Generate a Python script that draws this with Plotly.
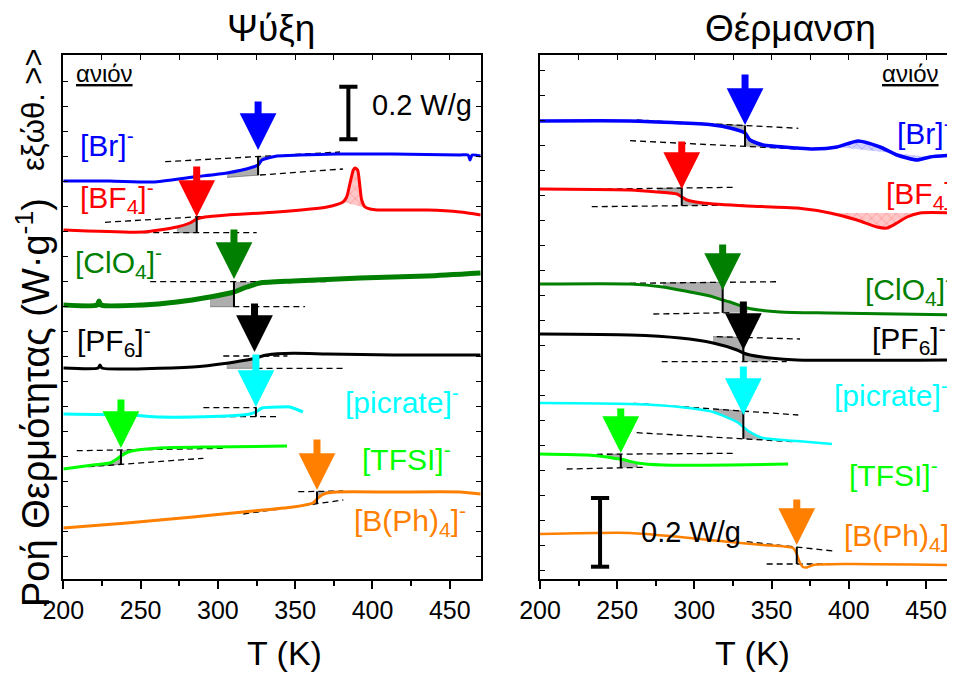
import plotly.graph_objects as go

# ================= DATA =================
# Left panel: cooling (Ψύξη). T in K; heat flow with vertical offsets (arbitrary units)
c_br_T = [200, 230, 258, 283.9, 305.9, 322.7, 326.0, 328.5, 338.2, 353.1, 377.0, 413.3, 456.6, 461.8, 463.1, 464.4, 470]
c_br_Y = [398, 398, 397, 402, 406, 412, 414, 419, 423, 424, 425, 425, 424, 424, 419, 424, 423]
c_bf4_T = [200, 251.6, 273.5, 281.9, 286.3, 291.6, 305.9, 338.2, 370.6, 380.9, 383.3, 385.5, 387.6, 388.7,
           390.4, 391.9, 393.0, 395.2, 398.4, 403.0, 435.3, 456.7, 470]
c_bf4_Y = [349, 347, 352, 356, 360, 362, 364, 367, 372, 377, 382, 396, 409, 411,
           409, 392, 379, 372, 370, 369, 369, 367, 364]
c_clo4_T = [200, 221.8, 223.1, 224.4, 251.6, 273.5, 294.9, 307.8, 310.4, 318.8, 327.2, 348.6, 391.9, 435.2, 470]
c_clo4_Y = [274, 274, 278, 274, 274, 277, 282, 286, 287, 292, 296, 298, 301, 303, 306]
c_pf6_T = [200, 222.5, 223.7, 225, 283.9, 305.7, 318.6, 323.7, 327.2, 331.6, 348.8, 370.6, 413.3, 470]
c_pf6_Y = [211, 211, 214, 211, 212, 215.7, 219, 220.5, 222.3, 224, 225.7, 225, 224, 224]
c_pic_T = [200, 241.2, 262.6, 283.9, 305.9, 320.8, 324.6, 328.5, 340.1, 346.6, 355.0]
c_pic_Y = [165, 164, 162, 162, 163, 165, 167, 171, 172, 172, 167]
c_tfsi_T = [200, 219.2, 230.2, 234.7, 237.3, 241.9, 247.7, 262.6, 294.9, 344.7]
c_tfsi_Y = [110, 114, 116, 120, 123, 127, 129, 131, 132, 133]
c_bph4_T = [200, 241.2, 283.9, 316.2, 348.6, 361.5, 364.1, 367.3, 370.6, 377.0, 413.3, 456.6, 470]
c_bph4_Y = [51, 56, 62, 67, 72, 76, 80, 84, 86, 87, 87, 87, 85]

# Right panel: heating (Θέρμανση)
h_br_T = [200, 258.3, 290.7, 312.1, 323.1, 332.8, 336.0, 344.4, 366.5, 376.8, 392.4, 406.0, 420.2, 431.2, 444.2, 452.6, 470]
h_br_Y = [458, 458, 456, 454, 451, 446, 439, 434, 431, 430, 432, 438, 432, 424, 419, 422, 424]
h_bf4_T = [200, 258.3, 275.8, 288.7, 291.8, 295.2, 305.6, 334.1, 366.5, 387.8, 405.3, 418.3, 424.8, 431.2, 437.7, 446.1, 470]
h_bf4_Y = [390, 389, 387, 385, 382, 379, 376, 373, 371, 366, 359, 352, 351, 356, 362, 366, 366]
h_clo4_T = [200, 258.3, 279.7, 297.2, 310.1, 318.3, 323.1, 334.1, 355.5, 387.8, 470]
h_clo4_Y = [295, 295, 292, 287, 283, 279, 277, 271, 267, 266, 264]
h_pf6_T = [200, 258.3, 290.7, 312.1, 327.6, 331.7, 336.0, 349.0, 366.5, 470]
h_pf6_Y = [245, 244, 241, 236, 229, 226, 224, 221, 219, 219]
h_pic_T = [200, 258.3, 290.7, 312.1, 327.6, 331.7, 336.0, 344.4, 366.5, 389.1]
h_pic_Y = [176, 175, 172, 167, 157, 152, 147, 141, 138, 135]
h_tfsi_T = [200, 230.4, 243.4, 248.6, 252.3, 262.8, 279.7, 323.1, 360.6]
h_tfsi_Y = [125, 124, 122, 120.5, 120, 116, 114, 114, 115]
h_bph4_T = [200, 258.3, 290.7, 323.1, 344.4, 363.9, 366.3, 368.4, 370.3, 372.9, 376.8, 398.8, 470]
h_bph4_Y = [45, 46, 42, 37, 34, 31, 25, 16, 12, 11.5, 14, 15, 14]

anion_labels = ["[Br]<sup>-</sup>", "[BF<sub>4</sub>]<sup>-</sup>", "[ClO<sub>4</sub>]<sup>-</sup>",
                "[PF<sub>6</sub>]<sup>-</sup>", "[picrate]<sup>-</sup>", "[TFSI]<sup>-</sup>",
                "[B(Ph)<sub>4</sub>]<sup>-</sup>"]
colors = ["#0000FF", "#FF0000", "#007F00", "#000000", "#00FFFF", "#00FF00", "#FF8000"]

# Glass transitions (K)
cool_tg = [326.0, 286.3, 310.4, 323.7, 324.6, 237.3, 364.1]
heat_tg = [332.8, 291.8, 318.3, 331.7, 331.7, 252.3, 366.3]
# extrapolated baselines (x1, y1, x2, y2): low-T side and high-T side
cool_low = [(327.2, 404, 380.9, 410), (251.7, 346.3, 325.1, 346.3), (310, 272.3, 356.3, 272.3),
            (325, 210.7, 381, 210.7), (256.1, 162.3, 340.1, 162.3), (216.2, 112.3, 290.6, 120.7),
            (316.4, 65, 381.1, 79)]
cool_high = [(265.9, 417.3, 379.0, 427), (227, 356.7, 290, 362.5), (256.2, 297.3, 370.6, 297.3),
             (303.5, 223, 345, 223), (290.6, 171.3, 325.1, 171.3), (208.7, 128.3, 305.7, 130.7),
             (352, 87.3, 381, 88)]
heat_low = [(262.6, 459, 367.3, 450.7), (230.2, 389.7, 326.3, 391.7), (258.3, 295.7, 355.4, 297.3),
            (314.5, 242.3, 368.4, 240), (260.4, 175.7, 367.3, 164), (236.7, 124.7, 327.4, 125.7),
            (333.9, 37.3, 390.0, 28)]
heat_high = [(258.3, 438.3, 366.3, 430), (233.5, 372.3, 331.7, 374), (273.4, 265, 323.1, 266.3),
             (278.8, 217.3, 359.8, 217.3), (262.6, 146.3, 364.1, 137.3), (217.3, 110, 266.9, 111.7),
             (346.8, 15, 390, 15)]
# shaded range (start, end) around Tg
cool_shade = [(305.9, 338.2), (273.5, 305.9), (294.9, 327.2), (305.7, 340), (324.6, 324.6), (219.2, 247.7), (348.6, 370.6)]
heat_shade = [(312.1, 344.4), (275.8, 305.6), (279.7, 334.1), (312.1, 349.0), (312.1, 344.4), (243.4, 262.8), (366.3, 366.3)]
# arrow (top, tip) heights
cool_arrow = [(479, 429), (414, 362), (351, 300), (277, 227), (226, 172), (181, 131), (141, 89)]
heat_arrow = [(506, 454), (439, 390), (336, 289), (279, 229), (214, 164), (172, 126), (81, 34)]
# hatched (peak) regions: (panel, curve index, T start, T end)
peaks = [("c", 1, 380.9, 398.4), ("h", 0, 392.4, 452.6), ("h", 1, 387.8, 446.1)]

cool_curves = [(c_br_T, c_br_Y), (c_bf4_T, c_bf4_Y), (c_clo4_T, c_clo4_Y), (c_pf6_T, c_pf6_Y),
               (c_pic_T, c_pic_Y), (c_tfsi_T, c_tfsi_Y), (c_bph4_T, c_bph4_Y)]
heat_curves = [(h_br_T, h_br_Y), (h_bf4_T, h_bf4_Y), (h_clo4_T, h_clo4_Y), (h_pf6_T, h_pf6_Y),
               (h_pic_T, h_pic_Y), (h_tfsi_T, h_tfsi_Y), (h_bph4_T, h_bph4_Y)]
cool_widths = [3, 3, 5, 3, 3, 3, 3]
heat_widths = [3.5, 3, 3, 3, 2.5, 3, 2.5]

scale_bar_T = [384.4, 238.9]
scale_bar_Y = [(439.7, 492.3), (12.3, 81)]

FONT = "Arial, Liberation Sans, sans-serif"
W, H = 980, 676
OFF = 8  # page body margin of the html page

fig = go.Figure()


def line_at(seg, t):
    x1, y1, x2, y2 = seg
    return y1 + (y2 - y1) * (t - x1) / (x2 - x1)


panels = [
    ("x", "y", cool_curves, cool_tg, cool_low, cool_high, cool_shade, cool_arrow, cool_widths),
    ("x2", "y2", heat_curves, heat_tg, heat_low, heat_high, heat_shade, heat_arrow, heat_widths),
]

GREY = "rgba(165,165,165,0.9)"
annotations = []
for (xr, yr, curves, tgs, lows, highs, shades, arrows, widths) in panels:
    # grey shaded areas
    for i, (T, Y) in enumerate(curves):
        tg = tgs[i]
        xa, xb = shades[i]
        if xa < tg:
            pts = [(t, y) for t, y in zip(T, Y) if xa <= t <= tg]
            fx = [p[0] for p in pts] + [tg, xa]
            fy = [p[1] for p in pts] + [line_at(lows[i], tg), line_at(lows[i], xa)]
            fig.add_trace(go.Scatter(x=fx, y=fy, xaxis=xr, yaxis=yr, mode="lines", fill="toself",
                                     fillcolor=GREY, line=dict(color="#555555", width=0.6),
                                     hoverinfo="skip", showlegend=False))
        if xb > tg:
            pts = [(t, y) for t, y in zip(T, Y) if tg <= t <= xb]
            fx = [tg] + [p[0] for p in pts] + [xb]
            fy = [line_at(highs[i], tg)] + [p[1] for p in pts] + [line_at(highs[i], xb)]
            fig.add_trace(go.Scatter(x=fx, y=fy, xaxis=xr, yaxis=yr, mode="lines", fill="toself",
                                     fillcolor=GREY, line=dict(color="#555555", width=0.6),
                                     hoverinfo="skip", showlegend=False))
    # dashed baselines
    for i in range(len(curves)):
        for seg in (lows[i], highs[i]):
            fig.add_trace(go.Scatter(x=[seg[0], seg[2]], y=[seg[1], seg[3]], xaxis=xr, yaxis=yr,
                                     mode="lines", line=dict(color="black", width=1.3, dash="6px,4px"),
                                     hoverinfo="skip", showlegend=False))

# hatched peaks
for (pn, ci, ta, tb) in peaks:
    T, Y = (cool_curves if pn == "c" else heat_curves)[ci]
    pts = [(t, y) for t, y in zip(T, Y) if ta <= t <= tb]
    col = colors[ci]
    rgba = "rgba(255,0,0,0.22)" if ci == 1 else "rgba(0,0,255,0.18)"
    fig.add_trace(go.Scatter(x=[p[0] for p in pts], y=[p[1] for p in pts],
                             xaxis="x" if pn == "c" else "x2", yaxis="y" if pn == "c" else "y2",
                             mode="lines", fill="toself", fillcolor=rgba,
                             fillpattern=dict(shape="x", fgcolor=col, bgcolor=rgba, size=7, solidity=0.15, fgopacity=0.35),
                             line=dict(width=0), hoverinfo="skip", showlegend=False))

for (xr, yr, curves, tgs, lows, highs, shades, arrows, widths) in panels:
    # curves
    for i, (T, Y) in enumerate(curves):
        fig.add_trace(go.Scatter(x=T, y=Y, xaxis=xr, yaxis=yr, mode="lines",
                                 line=dict(color=colors[i], width=widths[i], shape="spline", smoothing=0.6),
                                 hoverinfo="skip", showlegend=False))
    # Tg step lines
    for i in range(len(curves)):
        tg = tgs[i]
        fig.add_trace(go.Scatter(x=[tg, tg], y=[line_at(lows[i], tg), line_at(highs[i], tg)],
                                 xaxis=xr, yaxis=yr, mode="lines", line=dict(color="black", width=2),
                                 hoverinfo="skip", showlegend=False))
    # arrows
    for i in range(len(curves)):
        top, tip = arrows[i]
        annotations.append(dict(x=tgs[i], y=tip, ax=tgs[i], ay=top, xref=xr, yref=yr, axref=xr, ayref=yr,
                                text="", showarrow=True, arrowhead=2, arrowsize=1.05, arrowwidth=7,
                                arrowcolor=colors[i], standoff=0))

# scale bars
for k, (xr, yr) in enumerate([("x", "y"), ("x2", "y2")]):
    fig.add_trace(go.Scatter(x=[scale_bar_T[k]] * 2, y=list(scale_bar_Y[k]), xaxis=xr, yaxis=yr,
                             mode="lines+markers", line=dict(color="black", width=4),
                             marker=dict(symbol="line-ew", size=13, line=dict(color="black", width=4)),
                             hoverinfo="skip", showlegend=False))

# invisible traces for top tick axes
fig.add_trace(go.Scatter(x=[200], y=[0], xaxis="x3", yaxis="y", mode="markers", marker=dict(opacity=0), showlegend=False, hoverinfo="skip"))
fig.add_trace(go.Scatter(x=[200], y=[0], xaxis="x4", yaxis="y2", mode="markers", marker=dict(opacity=0), showlegend=False, hoverinfo="skip"))


def px(xp):
    return (xp - OFF) / W


def py(yp):
    return 1 - (yp - OFF) / H


yd = [py(579), py(55)]
dom_l = [px(63.3), px(480.7)]
dom_r = [px(540), px(956.9)]

xbase = dict(showgrid=False, zeroline=False, showline=True, linecolor="black", linewidth=1.5,
             ticks="outside", ticklen=8, tickwidth=1.5, tickcolor="black", dtick=50, tick0=200,
             minor=dict(ticks="outside", ticklen=5, tickwidth=1.5, dtick=25, tick0=200, tickcolor="black"),
             tickfont=dict(family=FONT, size=25, color="black"), automargin=False)
ybase = dict(showgrid=False, zeroline=False, showline=True, linecolor="black", linewidth=1.5,
             ticks="inside", ticklen=5, tickwidth=1.2, tickcolor="black", dtick=25,
             showticklabels=False, range=[0, 524], automargin=False)
topbase = dict(side="top", ticks="inside", ticklen=5, tickwidth=1.2, tickcolor="black", dtick=25, tick0=200,
               showticklabels=False, showgrid=False, zeroline=False, showline=False, automargin=False)

fig.update_layout(
    width=W, height=H, margin=dict(l=0, r=0, t=0, b=0, pad=0, autoexpand=False),
    paper_bgcolor="white", plot_bgcolor="white", showlegend=False,
    xaxis=dict(domain=dom_l, range=[200, 470], mirror=True, anchor="y", **xbase),
    yaxis=dict(domain=yd, tick0=23, mirror="ticks", anchor="x", **ybase),
    xaxis2=dict(domain=dom_r, range=[200, 470], mirror=True, anchor="y2", **xbase),
    yaxis2=dict(domain=yd, tick0=9, mirror=False, anchor="x2", **ybase),
    xaxis3=dict(overlaying="x", anchor="y", range=[200, 470], **topbase),
    xaxis4=dict(overlaying="x2", anchor="y2", range=[200, 470], **topbase),
)


def txt(text, x, y, size, color="black", xanchor="center", yanchor="middle", angle=0):
    annotations.append(dict(text=text, x=px(x), y=py(y), xref="paper", yref="paper", showarrow=False,
                            xanchor=xanchor, yanchor=yanchor, textangle=angle,
                            font=dict(family=FONT, size=size, color=color)))


# titles
txt("Ψύξη", 271, 28, 37)
txt("Θέρμανση", 790, 28, 37)
txt("T (K)", 284, 653, 34)
txt("T (K)", 752, 653, 34)
txt("Ροή Θερμότητας (W·g<sup>-1</sup>)", 33, 403, 38, angle=-90)
txt("εξώθ. >>", 33, 110, 31, angle=-90)
# anion labels
left_pos = [(78, 143), (78, 197), (73, 262), (75, 340), (343, 400), (360, 457), (352, 520)]
right_pos = [(895, 131), (884, 193), (863, 289), (870, 338), (832, 393), (847, 473), (842, 535)]
for i, lab in enumerate(anion_labels):
    txt(lab, left_pos[i][0], left_pos[i][1], 30, colors[i], xanchor="left")
    txt(lab, right_pos[i][0], right_pos[i][1], 30, colors[i], xanchor="left")
txt("<u>ανιόν</u>", 104.5, 73, 24)
txt("<u>ανιόν</u>", 910, 74, 24)
txt("0.2 W/g", 422, 105, 29)
txt("0.2 W/g", 691, 532, 29)

fig.update_layout(annotations=annotations)
fig.write_html("out.html")
